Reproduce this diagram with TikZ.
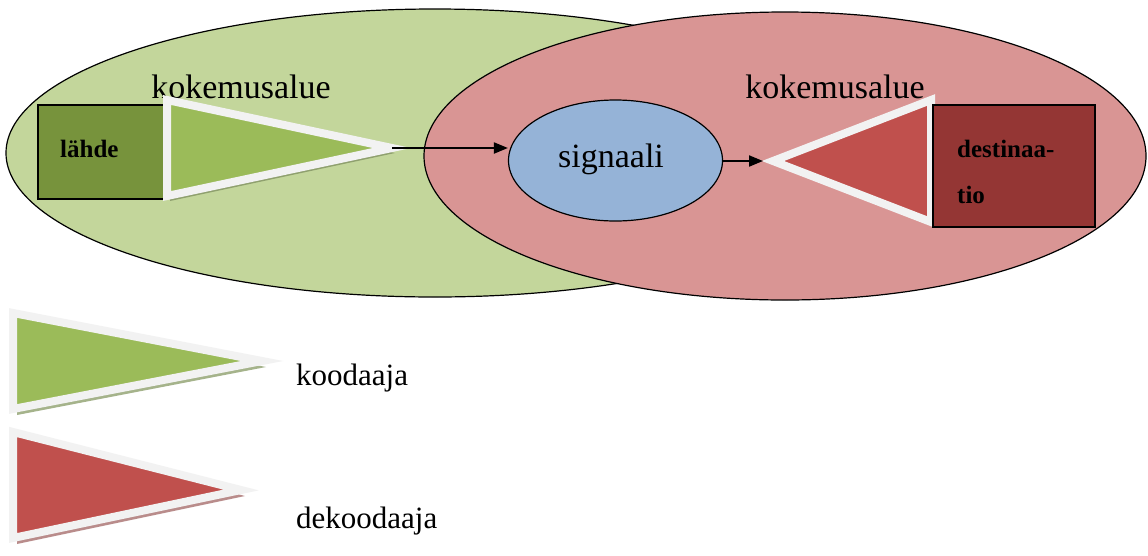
\documentclass[tikz,border=0pt]{standalone}
\usepackage{fontspec}
\setmainfont{Liberation Serif}
\usetikzlibrary{arrows.meta,shapes.geometric}
\definecolor{ellG}{HTML}{C3D69B}
\definecolor{ellR}{HTML}{D99594}
\definecolor{sigB}{HTML}{95B3D7}
\definecolor{triG}{HTML}{9BBB59}
\definecolor{boxG}{HTML}{77933C}
\definecolor{triR}{HTML}{C0504D}
\definecolor{boxR}{HTML}{943634}
\definecolor{rim}{HTML}{F2F2F2}
\definecolor{shG}{HTML}{8FA06E}
\definecolor{shR}{HTML}{A86F6E}
\tikzset{
  area/.style={ellipse, draw=black, line width=1.2pt, inner sep=0pt},
  boxnode/.style={draw=black, line width=1.2pt, inner sep=0pt},
  tri/.style={draw=rim, line width=8pt, line join=miter, miter limit=20},
  shade/.style={line width=8pt, line join=miter, miter limit=20},
  bigtext/.style={font=\fontsize{34}{40}\selectfont, anchor=base, inner sep=0pt},
  smalltext/.style={font=\fontsize{25}{30}\selectfont\bfseries, anchor=base west, inner sep=0pt},
  legtext/.style={font=\fontsize{31}{36}\selectfont, anchor=base west, inner sep=0pt},
  conn/.style={-{Triangle[length=14pt,width=11pt]}, line width=2pt}
}
\begin{document}
\begin{tikzpicture}[x=1pt,y=-1pt]
\path[use as bounding box, fill=white] (0,0) rectangle (1148,555);
% experience areas
\node[area, fill=ellG, minimum width=858pt, minimum height=288pt] (expL) at (435,153) {};
\node[area, fill=ellR, minimum width=722pt, minimum height=288pt] (expR) at (785,156) {};
\node[bigtext] (labL) at (241,98) {kokemusalue};
\node[bigtext] (labR) at (835,98) {kokemusalue};
% source box
\node[boxnode, fill=boxG, minimum width=129pt, minimum height=94pt] (src) at (102.5,152) {};
\node[smalltext] (srcT) at (60,157) {lähde};
% encoder triangle
\coordinate (encTip) at (392,148);
\fill[shG, shade] ([shift={(3,5)}]167,100) -- ([shift={(3,5)}]167,196) -- ([shift={(3,5)}]encTip) -- cycle;
\filldraw[fill=triG, tri] (167,100) -- (167,196) -- (encTip) -- cycle;
% signal
\node[area, fill=sigB, minimum width=214pt, minimum height=121pt] (sig) at (615.5,160.5) {};
\node[bigtext] (sigT) at (611,167) {signaali};
% decoder triangle
\coordinate (decV) at (773,161);
\coordinate (decTip) at (763,161);
\fill[shR, shade] ([shift={(4,5)}]931,100) -- ([shift={(4,5)}]931,222) -- ([shift={(4,5)}]decV) -- cycle;
\filldraw[fill=triR, tri] (931,100) -- (931,222) -- (decV) -- cycle;
% destination box
\node[boxnode, fill=boxR, minimum width=162pt, minimum height=122pt] (dst) at (1014,166) {};
\node[smalltext] (dstT1) at (957,157) {destinaa-};
\node[smalltext] (dstT2) at (957,203) {tio};
% connectors
\draw[conn] (encTip) -- (sig.west |- encTip);
\draw[conn] (sig.east |- decTip) -- (decTip);
% legend
\coordinate (legGTip) at (262,361);
\fill[shG!80!white, shade] ([shift={(4,6)}]13,313) -- ([shift={(4,6)}]13,409) -- ([shift={(4,6)}]legGTip) -- cycle;
\filldraw[fill=triG, tri] (13,313) -- (13,409) -- (legGTip) -- cycle;
\node[legtext] (legGT) at (296,385) {koodaaja};
\coordinate (legRTip) at (241,490);
\fill[shR!80!white, shade] ([shift={(4,6)}]13,432) -- ([shift={(4,6)}]13,538) -- ([shift={(4,6)}]legRTip) -- cycle;
\filldraw[fill=triR, tri] (13,432) -- (13,538) -- (legRTip) -- cycle;
\node[legtext] (legRT) at (296,528) {dekoodaaja};
\end{tikzpicture}
\end{document}
